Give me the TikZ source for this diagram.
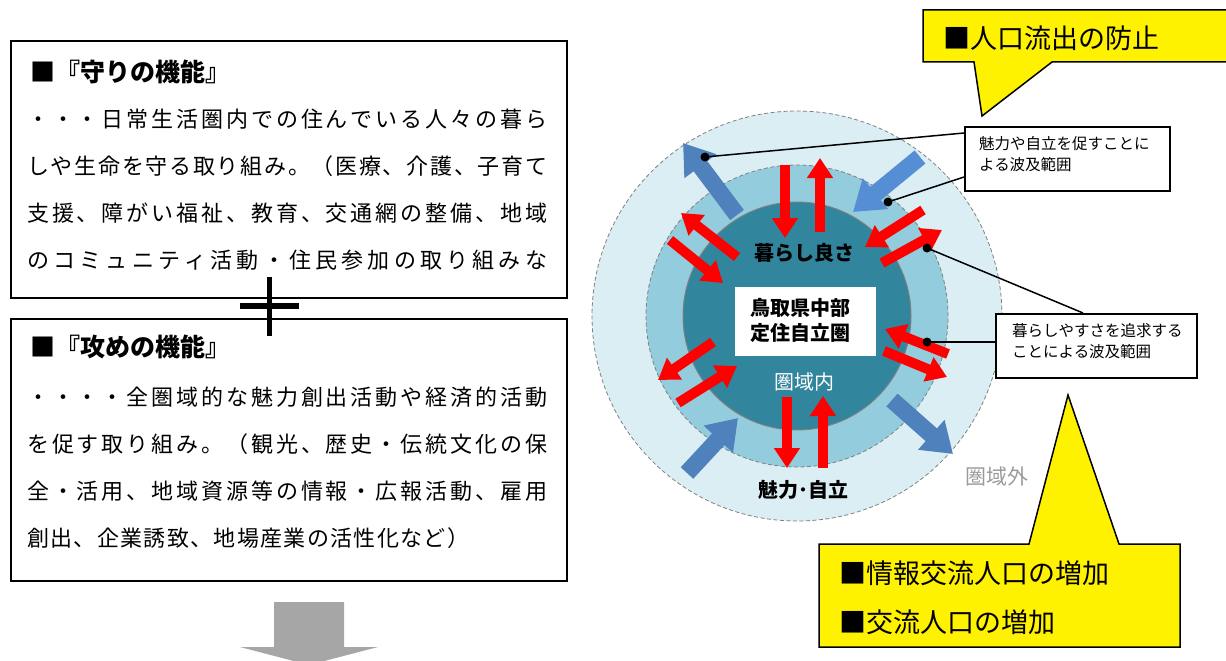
\documentclass[tikz,border=0pt]{standalone}
\usepackage{fontspec}
\setmainfont{Noto Sans CJK JP}
\usetikzlibrary{arrows.meta,calc}
\definecolor{outerc}{HTML}{DAEEF3}
\definecolor{midc}{HTML}{93CDDD}
\definecolor{innerc}{HTML}{31859C}
\definecolor{blueA}{HTML}{4F81BD}
\definecolor{blueB}{HTML}{558ED5}
\definecolor{grayarrow}{HTML}{A6A6A6}
\definecolor{gtext}{HTML}{9A9A9A}
\definecolor{ringline}{HTML}{808080}
\makeatletter
\newcommand\spreadtext[2]{\hbox to #1{\spr@A#2\relax}}
\def\spr@A#1{#1\spr@B}
\def\spr@B#1{\ifx#1\relax\else\hfill#1\expandafter\spr@B\fi}
\makeatother
\newcommand\titlef{\fontsize{25pt}{25pt}\selectfont\bfseries}
\newcommand\bodyf{\fontsize{22pt}{22pt}\selectfont}
\newcommand\smallf{\fontsize{15.5pt}{21pt}\selectfont}
\newcommand\midf{\fontsize{20pt}{25pt}\selectfont}
\newcommand\bigf{\fontsize{27pt}{27pt}\selectfont}
\begin{document}
\begin{tikzpicture}[x=1pt,y=-1pt,
  txt/.style={anchor=west,inner sep=0},
  framebox/.style={draw,line width=1.6pt,anchor=north west,inner sep=0},
  redarrow/.style={draw=red,line width=10pt,-{Triangle[length=20pt,width=25pt]}},
  bluearrow/.style={line width=17pt,-{Triangle[length=29pt,width=38pt]}},
  leader/.style={draw=black,line width=1.5pt},
  callout/.style={draw=black,line width=1.5pt,fill=yellow}]
\useasboundingbox (0,0) rectangle (1226,661);
\clip (0,0) rectangle (1226,661);

% ---------- left boxes ----------
\node[framebox,minimum width=556pt,minimum height=257pt] (box1) at (10,40) {};
\node[txt,font=\titlef] (t1) at (30,72) {■『守りの機能』};
\node[txt,font=\bodyf] (l11) at (27,119) {\spreadtext{520pt}{・・・日常生活圏内での住んでいる人々の暮ら}};
\node[txt,font=\bodyf] (l12) at (27,166) {\spreadtext{520pt}{しや生命を守る取り組み。（医療、介護、子育て}};
\node[txt,font=\bodyf] (l13) at (27,213) {\spreadtext{520pt}{支援、障がい福祉、教育、交通網の整備、地域}};
\node[txt,font=\bodyf] (l14) at (27,260) {\spreadtext{520pt}{のコミュニティ活動・住民参加の取り組みな}};

\node[framebox,minimum width=556pt,minimum height=262pt] (box2) at (10,318) {};
\node[txt,font=\titlef] (t2) at (30,347) {■『攻めの機能』};
\node[txt,font=\bodyf] (l21) at (27,397) {\spreadtext{520pt}{・・・・全圏域的な魅力創出活動や経済的活動}};
\node[txt,font=\bodyf] (l22) at (27,444) {\spreadtext{520pt}{を促す取り組み。（観光、歴史・伝統文化の保}};
\node[txt,font=\bodyf] (l23) at (27,491) {\spreadtext{520pt}{全・活用、地域資源等の情報・広報活動、雇用}};
\node[txt,font=\bodyf] (l24) at (27,538) {\spreadtext{442pt}{創出、企業誘致、地場産業の活性化など）}};

% plus sign
\coordinate (pv1) at (269.5,277); \coordinate (pv2) at (269.5,336);
\coordinate (ph1) at (240,306);   \coordinate (ph2) at (299,306);
\draw[line width=5pt] (pv1) -- (pv2);
\draw[line width=6pt] (ph1) -- (ph2);

% gray down arrow
\fill[grayarrow] (274,602) -- (344,602) -- (344,647) -- (378,647) -- (309,665)
  -- (240,647) -- (274,647) -- cycle;

% ---------- rings ----------
\node[circle,inner sep=0,minimum size=410pt,fill=outerc,draw=ringline,line width=0.8pt,dash pattern=on 4pt off 2.5pt] (outer) at (797,316) {};
\node[circle,inner sep=0,minimum size=302pt,fill=midc,draw=ringline,line width=0.8pt,dash pattern=on 4pt off 2.5pt] (mid) at (797,316) {};
\node[circle,inner sep=0,minimum size=228pt,fill=innerc,draw=ringline,line width=1pt] (inner) at (797,316) {};

\node[fill=white,anchor=north west,minimum width=141pt,minimum height=69pt,inner sep=0] (core) at (735,287) {};
\node[txt,font=\midf\bfseries,align=left] (coret) at (750,320.5) {鳥取県中部\\定住自立圏};
\node[inner sep=0,font=\midf\bfseries] (kurashi) at (804,253) {暮らし良さ};
\node[inner sep=0,font=\midf,text=white] (inside) at (804,382) {圏域内};
\node[inner sep=0,font=\midf\bfseries] (miryoku) at (803,490) {魅力･自立};
\node[inner sep=0,font=\fontsize{21pt}{21pt}\selectfont,text=gtext] (outside) at (997,477) {圏域外};

% red arrows
\draw[redarrow] (785,165) -- (785,238);
\draw[redarrow] (820,232) -- (820,158);
\draw[redarrow] (737,257) -- (681,213);
\draw[redarrow] (670,240) -- (723,283);
\draw[redarrow] (923,210) -- (865,247);
\draw[redarrow] (882,263) -- (942,230);
\draw[redarrow] (713,342) -- (658,380);
\draw[redarrow] (678,403) -- (737,366);
\draw[redarrow] (948,354) -- (885,329);
\draw[redarrow] (884,351) -- (947,377);
\draw[redarrow] (787,397) -- (787,468);
\draw[redarrow] (823,468) -- (823,396);

% blue arrows
\draw[bluearrow,draw=blueA] (737,215) -- (683,143);
\draw[bluearrow,draw=blueB] (920,157) -- (853,212);
\draw[bluearrow,draw=blueA] (687,473) -- (738,418);
\draw[bluearrow,draw=blueA] (892,400) -- (953,454);

% callout boxes with leaders
\coordinate (d1) at (705,157);
\coordinate (d2) at (888,202);
\coordinate (d3) at (927,248);
\coordinate (d4) at (927,342);
\node[framebox,fill=white,minimum width=205pt,minimum height=64pt] (cb1) at (964,126) {};
\node[framebox,fill=white,minimum width=201pt,minimum height=64pt] (cb2) at (995,313) {};
\draw[leader] (d1) -- ($(cb1.north west)+(0,7)$);
\draw[leader] (d2) -- ($(cb1.north west)+(0,51)$);
\draw[leader] (d3) -- ($(cb2.north west)+(88,0)$);
\draw[leader] (d4) -- ($(cb2.north west)+(0,29)$);
\foreach \d in {d1,d2,d3,d4} \fill (\d) circle (4.5pt);
\node[txt,font=\smallf,align=left] (cb1t) at (979,154.5) {魅力や自立を促すことに\\よる波及範囲};
\node[txt,font=\smallf,align=left] (cb2t) at (1012,341.5) {暮らしやすさを追求する\\ことによる波及範囲};

% yellow callouts
\draw[callout] (923,10) -- (1240,10) -- (1240,62) -- (1052,62) -- (982,116) -- (974,62) -- (923,62) -- cycle;
\node[txt,font=\bigf] (y1) at (943,38) {■人口流出の防止};
\draw[callout] (819,544) -- (1029,544) -- (1068,395) -- (1119,544) -- (1180,544) -- (1180,647) -- (819,647) -- cycle;
\node[txt,font=\bigf] (y2) at (839,573) {■情報交流人口の増加};
\node[txt,font=\bigf] (y3) at (839,622) {■交流人口の増加};
\end{tikzpicture}
\end{document}
